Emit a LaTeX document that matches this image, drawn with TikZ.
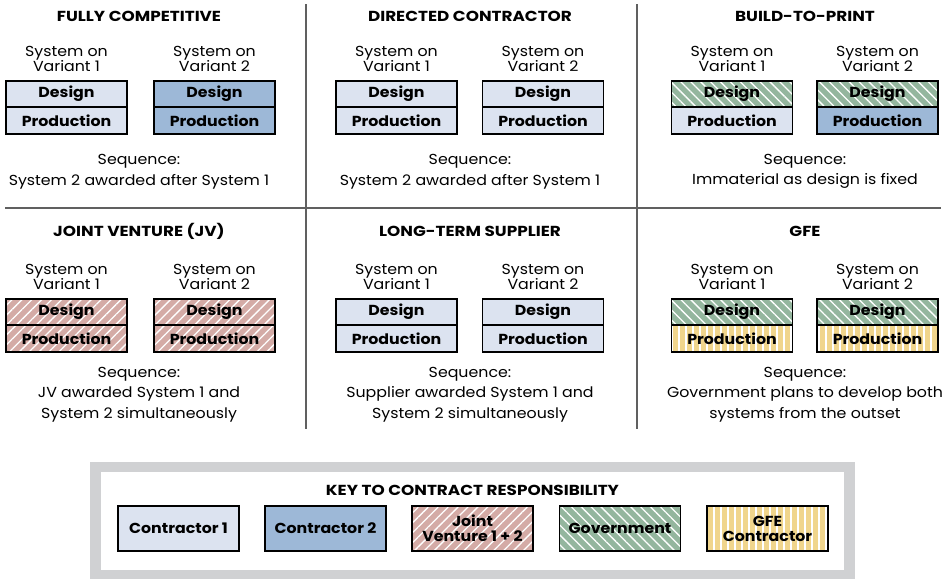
\documentclass[tikz,border=0pt]{standalone}
\usepackage{fontspec}
\setmainfont{Poppins}
\newfontfamily\wfont[FakeStretch=1.09]{Poppins}
\newfontfamily\tfont[FakeStretch=1.16]{Poppins}
\usetikzlibrary{patterns.meta}
\definecolor{cone}{HTML}{DCE3F0}
\definecolor{ctwo}{HTML}{9DB8D7}
\definecolor{cjv}{HTML}{D4ABA6}
\definecolor{cgov}{HTML}{94B69E}
\definecolor{cgfe}{HTML}{F0D58C}
\definecolor{divider}{HTML}{606060}
\definecolor{keyframe}{HTML}{D0D1D3}
\tikzset{
  cell/.style={draw=black, line width=1.6pt, minimum width=121pt, minimum height=26.5pt, inner sep=0pt, font=\wfont\bfseries\fontsize{14.5}{15}\selectfont},
  keybox/.style={draw=black, line width=1.8pt, minimum width=121pt, minimum height=45pt, inner sep=0pt, align=center, font=\wfont\bfseries\fontsize{14.5}{15}\selectfont},
  cone/.style={fill=cone},
  ctwo/.style={fill=ctwo},
  cjv/.style={preaction={fill=cjv}, pattern={Lines[angle=45,distance=7pt,line width=1.3pt]}, pattern color=white},
  cgov/.style={preaction={fill=cgov}, pattern={Lines[angle=-45,distance=7pt,line width=1.3pt]}, pattern color=white},
  cgfe/.style={preaction={fill=cgfe}, pattern={Lines[angle=90,distance=7pt,line width=2pt]}, pattern color=white},
  paneltitle/.style={font=\tfont\bfseries\fontsize{14.5}{15}\selectfont},
  label/.style={align=center, font=\wfont\fontsize{14.5}{15}\selectfont, inner sep=0pt},
  seq/.style={align=center, font=\wfont\fontsize{14.5}{20.5}\selectfont, inner sep=0pt},
  divline/.style={draw=divider, line width=1.3pt},
}
% \sysbox{name}{x}{designy}{designstyle}{prodstyle}{variant}
\newcommand\sysbox[6]{%
  \node[cell,#4] (#1d) at (#2,#3) {Design};
  \node[cell,#5] (#1p) at (#2,#3+26.5) {Production};
  \node[label] (#1l) at (#2,#3-35) {System on\\Variant #6};
}
\begin{document}
\begin{tikzpicture}[x=1pt,y=-1pt]
\useasboundingbox (0,0) rectangle (944,579);
\fill[white] (0,0) rectangle (944,579);
% dividers
\coordinate (v1t) at (306,4); \coordinate (v1b) at (306,429);
\coordinate (v2t) at (637,4); \coordinate (v2b) at (637,429);
\coordinate (hl) at (5,208); \coordinate (hr) at (941,208);
\draw[divline] (v1t) -- (v1b);
\draw[divline] (v2t) -- (v2b);
\draw[divline] (hl) -- (hr);
% row 1
\node[paneltitle] (t1) at (139,16) {FULLY COMPETITIVE};
\node[paneltitle] (t2) at (470,16) {DIRECTED CONTRACTOR};
\node[paneltitle] (t3) at (805,16) {BUILD-TO-PRINT};
\sysbox{a1}{66.5}{94}{cone}{cone}{1}
\sysbox{a2}{214.5}{94}{ctwo}{ctwo}{2}
\sysbox{b1}{396.5}{94}{cone}{cone}{1}
\sysbox{b2}{543}{94}{cone}{cone}{2}
\sysbox{c1}{732}{94}{cgov}{cone}{1}
\sysbox{c2}{877.5}{94}{cgov}{ctwo}{2}
\node[seq] (s1) at (139,171.5) {Sequence:\\System 2 awarded after System 1};
\node[seq] (s2) at (470,171.5) {Sequence:\\System 2 awarded after System 1};
\node[seq] (s3) at (805,171.5) {Sequence:\\Immaterial as design is fixed};
% row 2
\node[paneltitle] (t4) at (139,231) {JOINT VENTURE (JV)};
\node[paneltitle] (t5) at (470,231) {LONG-TERM SUPPLIER};
\node[paneltitle] (t6) at (805,231) {GFE};
\sysbox{d1}{66.5}{312}{cjv}{cjv}{1}
\sysbox{d2}{214.5}{312}{cjv}{cjv}{2}
\sysbox{e1}{396.5}{312}{cone}{cone}{1}
\sysbox{e2}{543}{312}{cone}{cone}{2}
\sysbox{f1}{732}{312}{cgov}{cgfe}{1}
\sysbox{f2}{877.5}{312}{cgov}{cgfe}{2}
\node[seq] (s4) at (139,394.5) {Sequence:\\JV awarded System 1 and\\System 2 simultaneously};
\node[seq] (s5) at (470,394.5) {Sequence:\\Supplier awarded System 1 and\\System 2 simultaneously};
\node[seq] (s6) at (805,394.5) {Sequence:\\Government plans to develop both\\systems from the outset};
% key
\fill[keyframe] (90,462) rectangle (855,579);
\fill[white] (101,472) rectangle (844,570);
\node[paneltitle] (kt) at (472.5,490) {KEY TO CONTRACT RESPONSIBILITY};
\node[keybox,cone] (k1) at (178.5,528.5) {Contractor 1};
\node[keybox,ctwo] (k2) at (325.5,528.5) {Contractor 2};
\node[keybox,cjv] (k3) at (472.5,528.5) {Joint\\Venture 1 + 2};
\node[keybox,cgov] (k4) at (620,528.5) {Government};
\node[keybox,cgfe] (k5) at (767.5,528.5) {GFE\\Contractor};
\end{tikzpicture}
\end{document}
